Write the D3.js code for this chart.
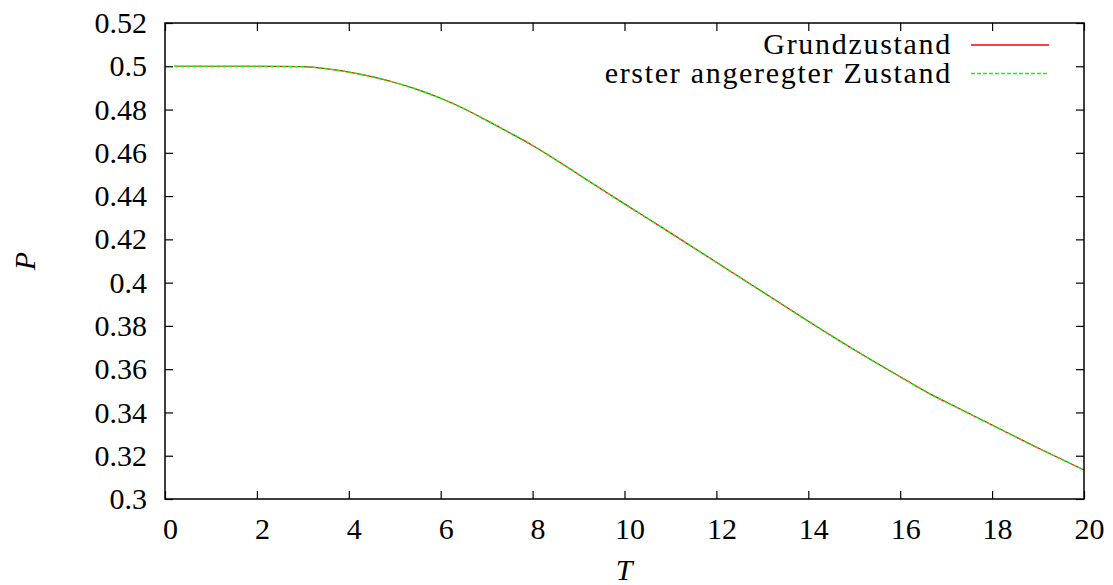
<!DOCTYPE html>
<html>
<head>
<meta charset="utf-8">
<script src="https://cdn.jsdelivr.net/npm/d3@7"></script>
<style>
  body { margin: 0; background: #fff; }
</style>
</head>
<body>
<div id="chart"></div>
<script>
// dati
var temps = [0.2, 1, 2, 3, 3.5, 4, 4.5, 5, 5.5, 6, 6.5, 7, 7.5, 8, 9, 10, 11, 12, 13, 14, 15, 16, 16.7, 17, 18, 19, 20]
var grund = [0.5, 0.5, 0.5, 0.4998, 0.4989, 0.4973, 0.4952, 0.4925, 0.4892, 0.4852, 0.4805, 0.475, 0.4693,
	0.4634, 0.45, 0.4364, 0.423, 0.4094, 0.3958, 0.3822, 0.369, 0.3565, 0.348, 0.3448, 0.3342, 0.3236, 0.3134]
var erster = [0.5, 0.5, 0.5, 0.4998, 0.4989, 0.4973, 0.4952, 0.4925, 0.4892, 0.4852, 0.4805, 0.475, 0.4693,
	0.4634, 0.45, 0.4364, 0.423, 0.4094, 0.3958, 0.3822, 0.369, 0.3565, 0.348, 0.3448, 0.3342, 0.3236, 0.3134]
var xTicks = [0, 2, 4, 6, 8, 10, 12, 14, 16, 18, 20]
var yTicks = [0.3, 0.32, 0.34, 0.36, 0.38, 0.4, 0.42, 0.44, 0.46, 0.48, 0.5, 0.52]
var seriesNames = ["Grundzustand", "erster angeregter Zustand"]

var font = '"Liberation Serif", "Times New Roman", "DejaVu Serif", serif'

// carico i font prima di disegnare (altrimenti esce sans)
var cv = document.createElement("canvas").getContext("2d")
cv.font = "30px " + font; cv.measureText("Grundzustand 0.52")
cv.font = "italic 30px " + font; cv.measureText("PT")

var margin = {top: 23, right: 29, bottom: 86, left: 165},
	width = 1113 - margin.left - margin.right,
	height = 585 - margin.top - margin.bottom

var svg = d3.select("#chart").append("svg")
	.attr("width", 1113)
	.attr("height", 585)

var g = svg.append("g")
	.attr("transform", "translate(" + margin.left + "," + margin.top + ")")

var x = d3.scaleLinear().domain([0, 20]).range([0, width])
var y = d3.scaleLinear().domain([0.3, 0.52]).range([height, 0])

var fmt = function(d) { return String(+d.toFixed(2)) }

// assi: tacche verso l'interno su tutti i lati
var xb = g.append("g").attr("transform", "translate(0," + height + ")")
	.call(d3.axisBottom(x).tickValues(xTicks).tickSizeInner(-8).tickSizeOuter(0).tickPadding(19).tickFormat(fmt))
var xt = g.append("g")
	.call(d3.axisTop(x).tickValues(xTicks).tickSizeInner(-8).tickSizeOuter(0).tickFormat(""))
var yl = g.append("g")
	.call(d3.axisLeft(y).tickValues(yTicks).tickSizeInner(-8).tickSizeOuter(0).tickPadding(18).tickFormat(fmt))
var yr = g.append("g").attr("transform", "translate(" + width + ",0)")
	.call(d3.axisRight(y).tickValues(yTicks).tickSizeInner(-8).tickSizeOuter(0).tickFormat(""))

g.selectAll(".domain").remove()
g.selectAll(".tick line").attr("stroke", "#000").attr("stroke-width", 1.2)
g.selectAll(".tick text")
	.style("font-family", font)
	.style("font-size", "30px")
	.attr("fill", "#000")
xb.selectAll(".tick text").attr("dx", 5).attr("dy", "0.71em")
yl.selectAll(".tick text").attr("dy", "0.32em")

// linee
var line = d3.line()
	.x(function(d) { return x(d[0]) })
	.y(function(d) { return y(d[1]) })
	.curve(d3.curveMonotoneX)

g.append("path")
	.datum(d3.zip(temps, grund))
	.attr("fill", "none")
	.attr("stroke", "#ff0000")
	.attr("stroke-width", 1.2)
	.attr("d", line)

g.append("path")
	.datum(d3.zip(temps, erster))
	.attr("fill", "none")
	.attr("stroke", "#00ff00")
	.attr("stroke-width", 1.3)
	.attr("stroke-dasharray", "4,2")
	.attr("d", line)

// cornice
g.append("rect")
	.attr("width", width)
	.attr("height", height)
	.attr("fill", "none")
	.attr("stroke", "#000")
	.attr("stroke-width", 1.5)

// legenda
var legend = g.append("g").attr("transform", "translate(" + (952 - margin.left) + ",0)")
var colors = ["#ff0000", "#00ff00"]
seriesNames.forEach(function(name, i) {
	var yy = 22 + i * 28.5
	legend.append("text")
		.attr("x", 0)
		.attr("y", yy + 9)
		.attr("text-anchor", "end")
		.style("font-family", font)
		.style("font-size", "30px")
		.style("letter-spacing", "1.7px")
		.text(name)
	legend.append("line")
		.attr("x1", 19).attr("x2", 97)
		.attr("y1", yy).attr("y2", yy)
		.attr("stroke", colors[i])
		.attr("stroke-width", 1.3)
		.attr("stroke-dasharray", i == 1 ? "4,2" : null)
})

// etichette degli assi
svg.append("text")
	.attr("transform", "translate(35,261) rotate(-90)")
	.attr("text-anchor", "middle")
	.style("font-family", font)
	.style("font-size", "30px").style("font-style", "italic")
	.text("P")

svg.append("text")
	.attr("x", 624).attr("y", 580)
	.attr("text-anchor", "middle")
	.style("font-family", font)
	.style("font-size", "30px").style("font-style", "italic")
	.text("T")
</script>
</body>
</html>
